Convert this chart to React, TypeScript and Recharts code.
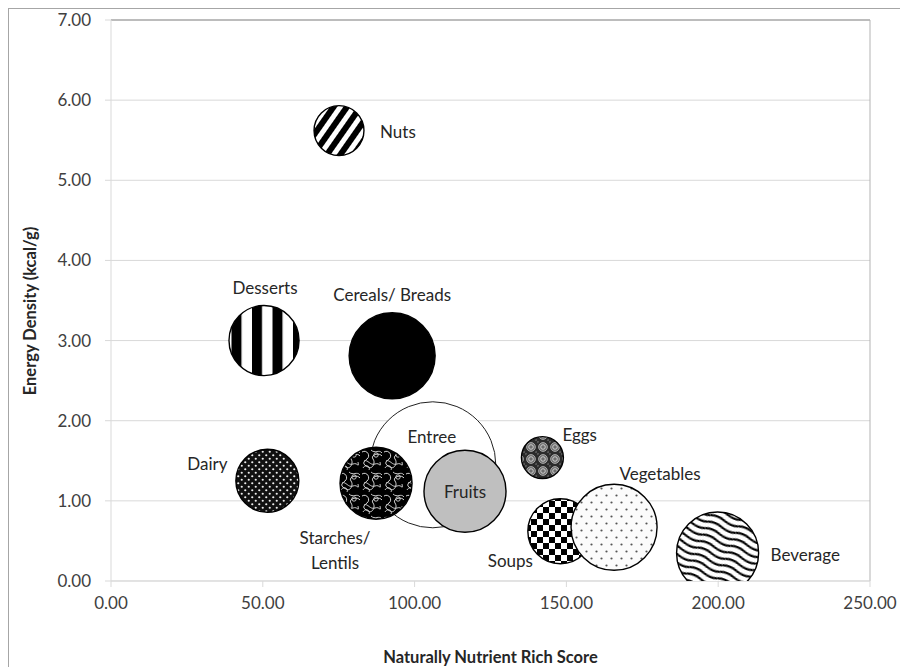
import { ScatterChart, Scatter, XAxis, YAxis, ZAxis, CartesianGrid, ReferenceLine, Label } from "recharts"

// food groups, in drawing order (later ones sit on top)
const foodGroups = [
  "Nuts",
  "Desserts",
  "Cereals/ Breads",
  "Entree",
  "Starches/ Lentils",
  "Fruits",
  "Dairy",
  "Eggs",
  "Soups",
  "Vegetables",
  "Beverage",
]
const nrScore = [75.1, 50.4, 92.6, 106.0, 87.3, 116.6, 51.5, 142.1, 148.0, 165.7, 199.8]
const energyDensity = [5.62, 3.0, 2.81, 1.45, 1.22, 1.12, 1.25, 1.54, 0.62, 0.67, 0.35]
const bubbleSize = [15.7, 30.9, 46.6, 100, 32.7, 42.4, 25.0, 11.1, 26.6, 46.6, 42.4]

const xTicks = [0, 50, 100, 150, 200, 250]
const yTicks = [0, 1, 2, 3, 4, 5, 6, 7]

const data = foodGroups.map((name, i) => ({
  name,
  x: nrScore[i],
  y: energyDensity[i],
  z: bubbleSize[i],
}))

const FONT = "Lato, 'Open Sans', sans-serif"
const MAX_R = 63

const fills: Record<string, string> = {
  Nuts: "url(#p-nuts)",
  Desserts: "url(#p-desserts)",
  "Cereals/ Breads": "#000",
  Entree: "#fff",
  "Starches/ Lentils": "url(#p-starches)",
  Fruits: "#bfbfbf",
  Dairy: "url(#p-dairy)",
  Eggs: "url(#p-eggs)",
  Soups: "url(#p-soups)",
  Vegetables: "url(#p-veg)",
  Beverage: "url(#p-bev)",
}

// where each label sits relative to its bubble centre
const labelPlacement: Record<string, { dx: number; dy: number; anchor: "start" | "middle" | "end" }> = {
  Nuts: { dx: 41, dy: 0, anchor: "start" },
  Desserts: { dx: 1, dy: -54, anchor: "middle" },
  "Cereals/ Breads": { dx: 0, dy: -62, anchor: "middle" },
  Entree: { dx: -1, dy: -29, anchor: "middle" },
  "Starches/ Lentils": { dx: -41, dy: 54, anchor: "middle" },
  Fruits: { dx: 0, dy: 0, anchor: "middle" },
  Dairy: { dx: -60, dy: -18, anchor: "middle" },
  Eggs: { dx: 20, dy: -24, anchor: "start" },
  Soups: { dx: -50, dy: 29, anchor: "middle" },
  Vegetables: { dx: 46, dy: -54, anchor: "middle" },
  Beverage: { dx: 53, dy: 1, anchor: "start" },
}

const fmt = (v: number) => v.toFixed(2)

function radiusOf(props: any) {
  if (typeof props.size === "number") return Math.sqrt(Math.max(props.size, 0) / Math.PI)
  return (props.width ?? 0) / 2
}

function Bubble(props: any) {
  const { cx, cy, payload } = props
  const r = radiusOf(props)
  return (
    <circle
      cx={cx}
      cy={cy}
      r={r}
      fill={fills[payload.name]}
      stroke={payload.name === "Entree" ? "#222" : "#000"}
      strokeWidth={payload.name === "Entree" ? 1 : 1.4}
    />
  )
}

function BubbleLabel(props: any) {
  const { cx, cy, payload } = props
  const p = labelPlacement[payload.name]
  const lines = payload.name === "Starches/ Lentils" ? ["Starches/", "Lentils"] : [payload.name]
  return (
    <text
      x={cx + p.dx}
      y={cy + p.dy}
      textAnchor={p.anchor}
      dominantBaseline="central"
      fontFamily={FONT}
      fontSize={17}
      fill="#262626"
    >
      {lines.map((l, i) => (
        <tspan key={i} x={cx + p.dx} dy={i === 0 ? 0 : 25}>
          {l}
        </tspan>
      ))}
    </text>
  )
}

function Patterns() {
  return (
    <svg width={0} height={0} style={{ position: "absolute" }}>
      <defs>
        <pattern id="p-nuts" width="11" height="11" patternUnits="userSpaceOnUse" patternTransform="rotate(35)">
          <rect width="11" height="11" fill="#fff" />
          <rect width="6" height="11" fill="#000" />
        </pattern>
        <pattern id="p-desserts" x="243" width="20.5" height="20" patternUnits="userSpaceOnUse">
          <rect width="20.5" height="20" fill="#fff" />
          <rect width="10" height="20" fill="#000" />
        </pattern>
        <pattern id="p-dairy" width="7" height="7" patternUnits="userSpaceOnUse">
          <rect width="7" height="7" fill="#111" />
          <circle cx="1.75" cy="1.75" r="1.1" fill="#eee" />
          <circle cx="5.25" cy="5.25" r="1.1" fill="#eee" />
        </pattern>
        <pattern id="p-starches" width="22" height="22" patternUnits="userSpaceOnUse">
          <rect width="22" height="22" fill="#000" />
          <path
            d="M1 3 C6 0 10 7 6 10 S1 15 7 18 C11 21 15 14 12 10 S18 3 21 7"
            stroke="#eee"
            strokeWidth="0.9"
            fill="none"
          />
          <path
            d="M10 1 C14 5 18 0 21 4 M3 12 C7 10 9 17 14 15 S20 20 19 13 M8 21 C10 17 4 15 2 19"
            stroke="#ddd"
            strokeWidth="0.9"
            fill="none"
          />
          <circle cx="15" cy="6" r="2.2" stroke="#eee" strokeWidth="0.8" fill="none" />
        </pattern>
        <pattern id="p-eggs" width="12" height="12" patternUnits="userSpaceOnUse">
          <rect width="12" height="12" fill="#2b2b2b" />
          <circle cx="6" cy="6" r="4.4" fill="#6e6e6e" stroke="#bdbdbd" strokeWidth="0.8" />
          <circle cx="6" cy="6" r="2.3" fill="none" stroke="#e0e0e0" strokeWidth="0.8" />
          <circle cx="0" cy="0" r="2.2" fill="#555" />
          <circle cx="12" cy="12" r="2.2" fill="#555" />
        </pattern>
        <pattern id="p-soups" width="12" height="12" patternUnits="userSpaceOnUse">
          <rect width="12" height="12" fill="#fff" />
          <rect width="6" height="6" fill="#000" />
          <rect x="6" y="6" width="6" height="6" fill="#000" />
        </pattern>
        <pattern id="p-veg" width="10" height="14" patternUnits="userSpaceOnUse">
          <rect width="10" height="14" fill="#fbfbfb" />
          <circle cx="2.5" cy="3.5" r="1.1" fill="#555" />
          <circle cx="7.5" cy="10.5" r="1.1" fill="#555" />
        </pattern>
        <pattern id="p-bev" width="30" height="7" patternUnits="userSpaceOnUse" patternTransform="rotate(22)">
          <rect width="30" height="7" fill="#fff" />
          <path d="M0 3.5 C5 1.5 10 1.8 15 3.5 S25 5.6 30 3.5" stroke="#000" strokeWidth="2.1" fill="none" />
        </pattern>
      </defs>
    </svg>
  )
}

export default function App() {
  return (
    <div
      style={{
        width: 900,
        height: 659,
        borderLeft: "1px solid #a6a6a6",
        borderTop: "1px solid #a6a6a6",
        boxSizing: "border-box",
        position: "relative",
        background: "#fff",
      }}
    >
      <style>{"body{overflow:hidden}"}</style>
      <Patterns />
      <ScatterChart width={899} height={658} margin={{ top: 11, right: 38, bottom: 0, left: 0 }}>
        <CartesianGrid horizontal vertical={false} stroke="#d9d9d9" />
        <XAxis
          type="number"
          dataKey="x"
          domain={[0, 250]}
          ticks={xTicks}
          interval={0}
          tickFormatter={fmt}
          height={86}
          axisLine={{ stroke: "#d9d9d9" }}
          tickLine={{ stroke: "#d9d9d9" }}
          tickSize={6}
          tickMargin={10}
          tick={{ fill: "#404040", fontSize: 17, fontFamily: FONT }}
        >
          <Label
            content={() => (
              <text
                x={102 + (861 - 102) / 2}
                y={648}
                textAnchor="middle"
                dominantBaseline="central"
                fontFamily={FONT}
                fontWeight="bold"
                fontSize={16.5}
                fill="#262626"
              >
                Naturally Nutrient Rich Score
              </text>
            )}
          />
        </XAxis>
        <YAxis
          type="number"
          dataKey="y"
          domain={[0, 7]}
          ticks={yTicks}
          interval={0}
          allowDataOverflow
          tickFormatter={fmt}
          width={102}
          axisLine={{ stroke: "#d9d9d9" }}
          tickLine={{ stroke: "#d9d9d9" }}
          tickSize={6}
          tickMargin={14}
          tick={{ fill: "#404040", fontSize: 17, fontFamily: FONT }}
        >
          <Label
            content={() => (
              <text
                x={21}
                y={302}
                transform="rotate(-90, 21, 302)"
                textAnchor="middle"
                dominantBaseline="central"
                fontFamily={FONT}
                fontWeight="bold"
                fontSize={16.5}
                fill="#262626"
              >
                Energy Density (kcal/g)
              </text>
            )}
          />
        </YAxis>
        <ZAxis type="number" dataKey="z" domain={[0, 100]} range={[0, Math.PI * MAX_R * MAX_R]} />
        <ReferenceLine y={7} stroke="#8c8c8c" />
        <ReferenceLine x={250} stroke="#b3b3b3" />
        <Scatter data={data} shape={Bubble} isAnimationActive={false} />
        <Scatter data={data} shape={BubbleLabel} isAnimationActive={false} />
      </ScatterChart>
    </div>
  )
}
